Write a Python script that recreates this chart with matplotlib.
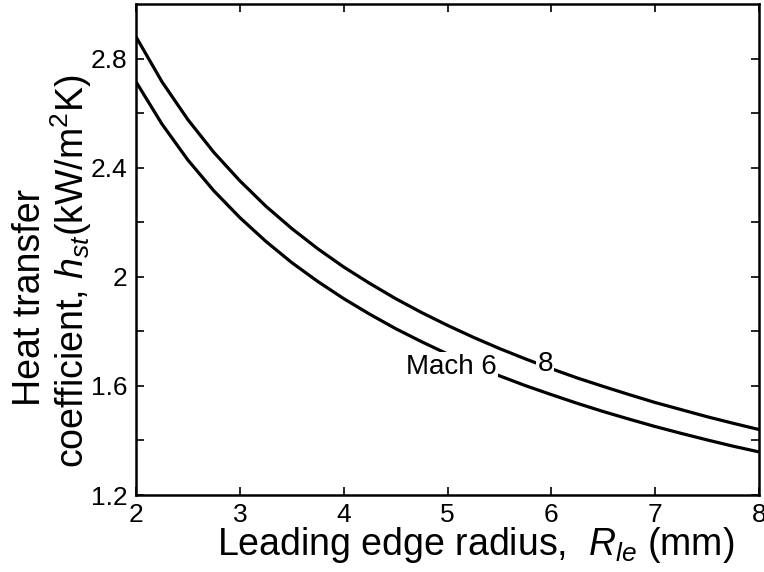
import numpy as np
import matplotlib.pyplot as plt
from matplotlib.ticker import MultipleLocator, FixedFormatter, FixedLocator

plt.rcParams['font.family'] = ['Liberation Sans', 'DejaVu Sans']
plt.rcParams['mathtext.fontset'] = 'custom'
plt.rcParams['mathtext.rm'] = 'Liberation Sans'
plt.rcParams['mathtext.it'] = 'Liberation Sans:italic'

# leading edge radius (mm)
radius = [2.0, 2.25, 2.5, 2.75, 3.0, 3.25, 3.5, 3.75, 4.0, 4.25, 4.5, 4.75, 5.0,
          5.25, 5.5, 5.75, 6.0, 6.25, 6.5, 6.75, 7.0, 7.25, 7.5, 7.75, 8.0]
# stagnation heat transfer coefficient (kW/m^2K)
h_mach8 = [2.880, 2.715, 2.576, 2.456, 2.352, 2.259, 2.177, 2.103, 2.036, 1.976,
           1.920, 1.869, 1.822, 1.778, 1.737, 1.699, 1.663, 1.629, 1.598, 1.568,
           1.539, 1.513, 1.487, 1.463, 1.440]
h_mach6 = [2.715, 2.560, 2.428, 2.315, 2.217, 2.130, 2.052, 1.983, 1.920, 1.863,
           1.810, 1.762, 1.717, 1.676, 1.637, 1.601, 1.568, 1.536, 1.506, 1.478,
           1.451, 1.426, 1.402, 1.379, 1.358]

fig = plt.figure(figsize=(7.64, 5.72), dpi=100)
ax = fig.add_axes([0.178, 0.1346, 0.8155, 0.8584])

ax.plot(radius, h_mach8, color='black', lw=2.3, solid_capstyle='butt')
ax.plot(radius, h_mach6, color='black', lw=2.3, solid_capstyle='butt')

# labels on the curves, white box breaks the line
box = dict(facecolor='white', edgecolor='none', pad=1)
ax.text(5.04, 1.67, 'Mach 6', fontsize=20, ha='center', va='center', bbox=box)
ax.text(5.94, 1.68, '8', fontsize=20, ha='center', va='center', bbox=box)

ax.set_xlim(2, 8)
ax.set_ylim(1.2, 3.0)
ax.xaxis.set_major_locator(MultipleLocator(1))
yt = [1.2, 1.4, 1.6, 1.8, 2.0, 2.2, 2.4, 2.6, 2.8]
ax.yaxis.set_major_locator(FixedLocator(yt))
ax.yaxis.set_major_formatter(FixedFormatter(['1.2', '', '1.6', '', '2', '', '2.4', '', '2.8']))
ax.tick_params(direction='in', length=6, width=1.2, top=True, right=True,
               labelsize=19, pad=6)

for s in ax.spines.values():
    s.set_linewidth(1.8)

# axis titles
fig.text(476 / 764, 1 - 545 / 572, 'Leading edge radius,  $R_{le}$ (mm)',
         fontsize=27, ha='center', va='center')
fig.text(30 / 764, 1 - 298 / 572, 'Heat transfer', fontsize=27,
         rotation=90, ha='center', va='center')
fig.text(71 / 764, 1 - 271 / 572, 'coefficient, $h_{st}$(kW/m$^2$K)', fontsize=27,
         rotation=90, ha='center', va='center')

fig.savefig('out.png', dpi=100)
